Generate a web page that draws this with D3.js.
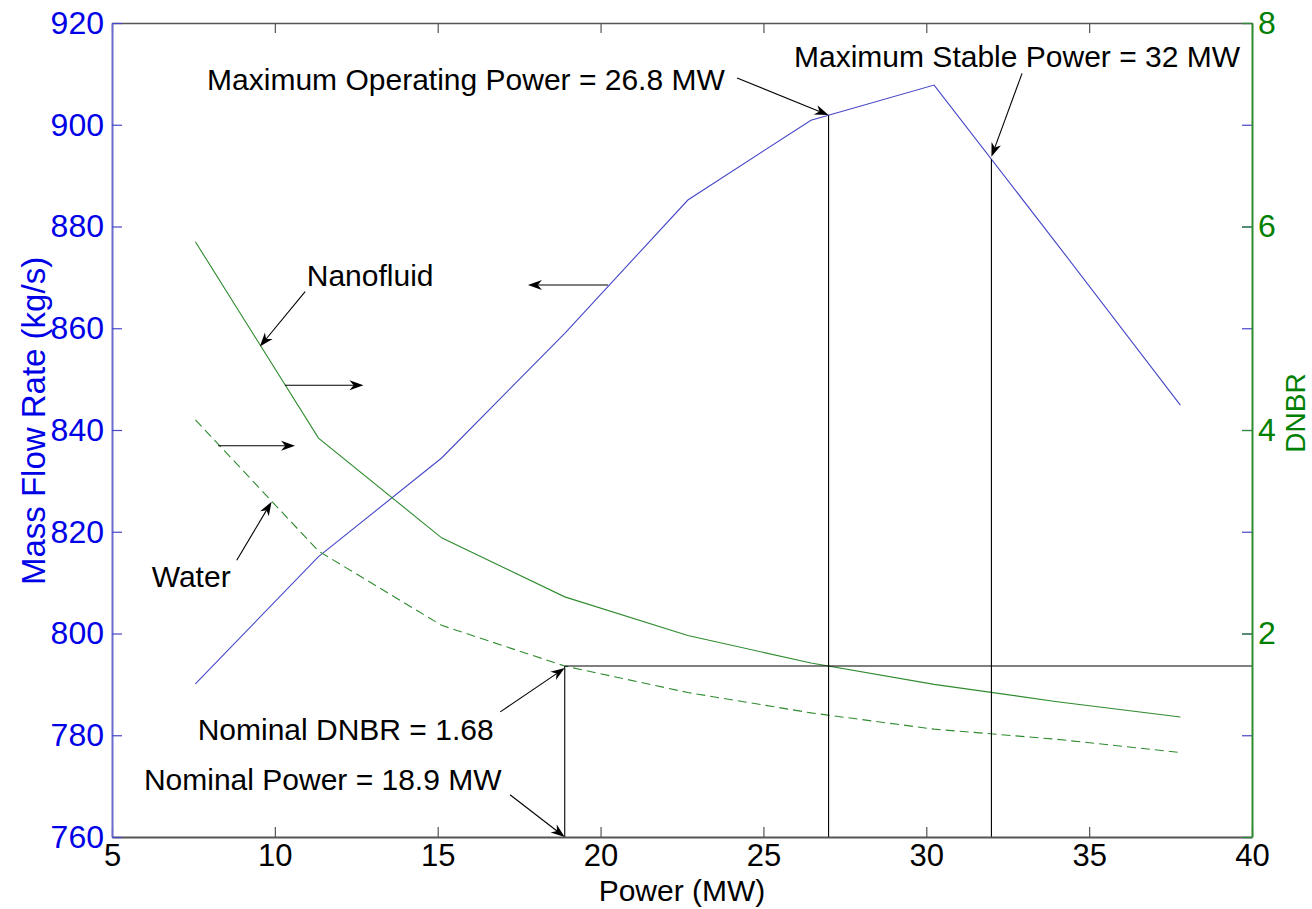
<!DOCTYPE html>
<html><head><meta charset="utf-8">
<script src="https://cdn.jsdelivr.net/npm/d3@7"></script>
<style>html,body{margin:0;padding:0;background:#fff;}svg{display:block;font-family:"Liberation Sans",Arial,Helvetica,sans-serif;}</style>
</head><body><svg id="c" width="1312" height="909"></svg>
<script>
// ---- data ----
const power      = [7.56, 11.34, 15.12, 18.9, 22.68, 26.46, 30.24, 34.02, 37.8];
const massFlow   = [790.1, 815.1, 834.5, 859.0, 885.2, 900.9, 907.8, 876.5, 844.9];
const dnbrNano   = [5.85, 3.92, 2.94, 2.36, 1.98, 1.71, 1.50, 1.33, 1.18];
const dnbrWater  = [4.10, 2.81, 2.08, 1.68, 1.42, 1.22, 1.06, 0.96, 0.83];
const xTicks     = [5, 10, 15, 20, 25, 30, 35, 40];
const yLeftTicks = [760, 780, 800, 820, 840, 860, 880, 900, 920];
const yRightTicks= [0, 2, 4, 6, 8];
const nominalPower = 18.9, nominalDNBR = 1.68, maxOperating = 27, maxStable = 32;
// annotations in data units (power, mass flow)
const labels = [
  {t:"Maximum Operating Power = 26.8 MW", x:7.92, y:906.8},
  {t:"Maximum Stable Power = 32 MW", x:25.94, y:911.3},
  {t:"Nanofluid", x:10.98, y:868.3},
  {t:"Water", x:6.22, y:809.1},
  {t:"Nominal DNBR = 1.68", x:7.63, y:779.1},
  {t:"Nominal Power = 18.9 MW", x:5.98, y:769.2}
];
const arrows = [
  {x1:24.19, y1:909.2, x2:27.0,  y2:901.9},
  {x1:32.94, y1:910.1, x2:32.0,  y2:893.7},
  {x1:10.93, y1:867.2, x2:9.54,  y2:856.4},
  {x1:10.31, y1:848.8, x2:12.72, y2:848.8},
  {x1:8.26,  y1:836.9, x2:10.62, y2:836.9},
  {x1:8.83,  y1:814.4, x2:9.90,  y2:825.9},
  {x1:20.23, y1:868.5, x2:17.77, y2:868.5},
  {x1:16.92, y1:784.6, x2:18.9,  y2:793.2},
  {x1:17.22, y1:768.3, x2:18.9,  y2:760.0}
];

(function(){
const svg = d3.select("#c");
const L=112, R=1252, T=23, B=837;
const x  = d3.scaleLinear().domain([5,40]).range([L,R]);
const yL = d3.scaleLinear().domain([760,920]).range([B,T]);
const yR = d3.scaleLinear().domain([0,8]).range([B,T]);
const interp = (arrX, arrY, v) => {
  for (let i=0;i<arrX.length-1;i++){
    if (v>=arrX[i] && v<=arrX[i+1]) return arrY[i] + (arrY[i+1]-arrY[i])*(v-arrX[i])/(arrX[i+1]-arrX[i]);
  }
  return arrY[arrY.length-1];
};

const BLUE="#4646c8", GREEN="#2e8b2e", BLUET="#0000e6", GREENT="#008000", GRAY="#555";
const FONT="Liberation Sans, Arial, sans-serif";

// curves
const lineL = d3.line().x((d,i)=>x(power[i])).y(d=>yL(d));
const lineR = d3.line().x((d,i)=>x(power[i])).y(d=>yR(d));
svg.append("path").attr("d",lineL(massFlow)).attr("fill","none").attr("stroke",BLUE).attr("stroke-width",1.1);
svg.append("path").attr("d",lineR(dnbrNano)).attr("fill","none").attr("stroke",GREEN).attr("stroke-width",1.1);
svg.append("path").attr("d",lineR(dnbrWater)).attr("fill","none").attr("stroke",GREEN).attr("stroke-width",1.1).attr("stroke-dasharray","9,5");

// reference lines
const ref = svg.append("g").attr("stroke","#000").attr("stroke-width",1.1);
ref.append("line").attr("x1",x(nominalPower)).attr("x2",x(nominalPower)).attr("y1",yR(0)).attr("y2",yR(nominalDNBR));
ref.append("line").attr("x1",x(nominalPower)).attr("x2",x(40)).attr("y1",yR(nominalDNBR)).attr("y2",yR(nominalDNBR));
[maxOperating, maxStable].forEach(p=>{
  ref.append("line").attr("x1",x(p)).attr("x2",x(p)).attr("y1",yL(760)).attr("y2",yL(interp(power,massFlow,p)));
});

// axes
const gBottom = svg.append("g").attr("transform",`translate(0,${B})`).call(d3.axisBottom(x).tickValues(xTicks).tickSizeInner(-10).tickSizeOuter(0).tickPadding(7));
gBottom.select(".domain").attr("stroke",GRAY).attr("stroke-width",2);
gBottom.selectAll(".tick line").attr("stroke",GRAY).attr("stroke-width",1.2);
gBottom.selectAll(".tick text").attr("font-size",31).attr("fill","#000").attr("font-family",FONT);

const gTop = svg.append("g").attr("transform",`translate(0,${T})`).call(d3.axisTop(x).tickValues(xTicks).tickSizeInner(-10).tickSizeOuter(0).tickFormat(""));
gTop.select(".domain").attr("stroke",GRAY).attr("stroke-width",1.5);
gTop.selectAll(".tick line").attr("stroke",GRAY).attr("stroke-width",1.2);

const gRightBlue = svg.append("g").attr("transform",`translate(${R},0)`).call(d3.axisRight(yL).tickValues(yLeftTicks).tickSizeInner(-10).tickSizeOuter(0).tickFormat(""));
gRightBlue.select(".domain").remove();
gRightBlue.selectAll(".tick line").attr("stroke",BLUE).attr("stroke-width",1.2);

const gLeft = svg.append("g").attr("transform",`translate(${L},0)`).call(d3.axisLeft(yL).tickValues(yLeftTicks).tickSizeInner(-10).tickSizeOuter(0).tickPadding(8));
gLeft.select(".domain").attr("stroke","#6a6ad0").attr("stroke-width",2);
gLeft.selectAll(".tick line").attr("stroke",BLUE).attr("stroke-width",1.2);
gLeft.selectAll(".tick text").attr("font-size",32).attr("fill",BLUET).attr("font-family",FONT);

const gRight = svg.append("g").attr("transform",`translate(${R},0)`).call(d3.axisRight(yR).tickValues(yRightTicks).tickSizeInner(-10).tickSizeOuter(0).tickPadding(6));
gRight.select(".domain").attr("stroke",GREEN).attr("stroke-width",2);
gRight.selectAll(".tick line").attr("stroke",GREEN).attr("stroke-width",1.2);
gRight.selectAll(".tick text").attr("font-size",32).attr("fill",GREENT).attr("font-family",FONT).filter(d=>d===0).remove();

// axis titles
svg.append("text").attr("x",(L+R)/2).attr("y",901).attr("text-anchor","middle").attr("font-size",30).text("Power (MW)");
svg.append("text").attr("transform","translate(45,421) rotate(-90)").attr("text-anchor","middle").attr("font-size",33).attr("fill",BLUET).text("Mass Flow Rate (kg/s)");
svg.append("text").attr("transform","translate(1305,413) rotate(-90)").attr("text-anchor","middle").attr("font-size",28).attr("fill",GREENT).text("DNBR");

// annotations
svg.append("g").selectAll("text").data(labels).join("text")
  .attr("x",d=>x(d.x)).attr("y",d=>yL(d.y)).attr("font-size",30).attr("fill","#000").text(d=>d.t);

const ag = svg.append("g");
arrows.forEach(a=>{
  const x1=x(a.x1), y1=yL(a.y1), x2=x(a.x2), y2=yL(a.y2);
  const ang=Math.atan2(y2-y1,x2-x1), len=14, w=5;
  const bx=x2-len*Math.cos(ang), by=y2-len*Math.sin(ang);
  const nx=-Math.sin(ang), ny=Math.cos(ang);
  const mx=x2-len*0.7*Math.cos(ang), my=y2-len*0.7*Math.sin(ang);
  ag.append("line").attr("x1",x1).attr("y1",y1).attr("x2",mx).attr("y2",my).attr("stroke","#000").attr("stroke-width",1.1);
  ag.append("path").attr("d",`M${x2},${y2}L${bx+nx*w},${by+ny*w}L${mx},${my}L${bx-nx*w},${by-ny*w}Z`).attr("fill","#000");
});
})();
</script></body></html>
